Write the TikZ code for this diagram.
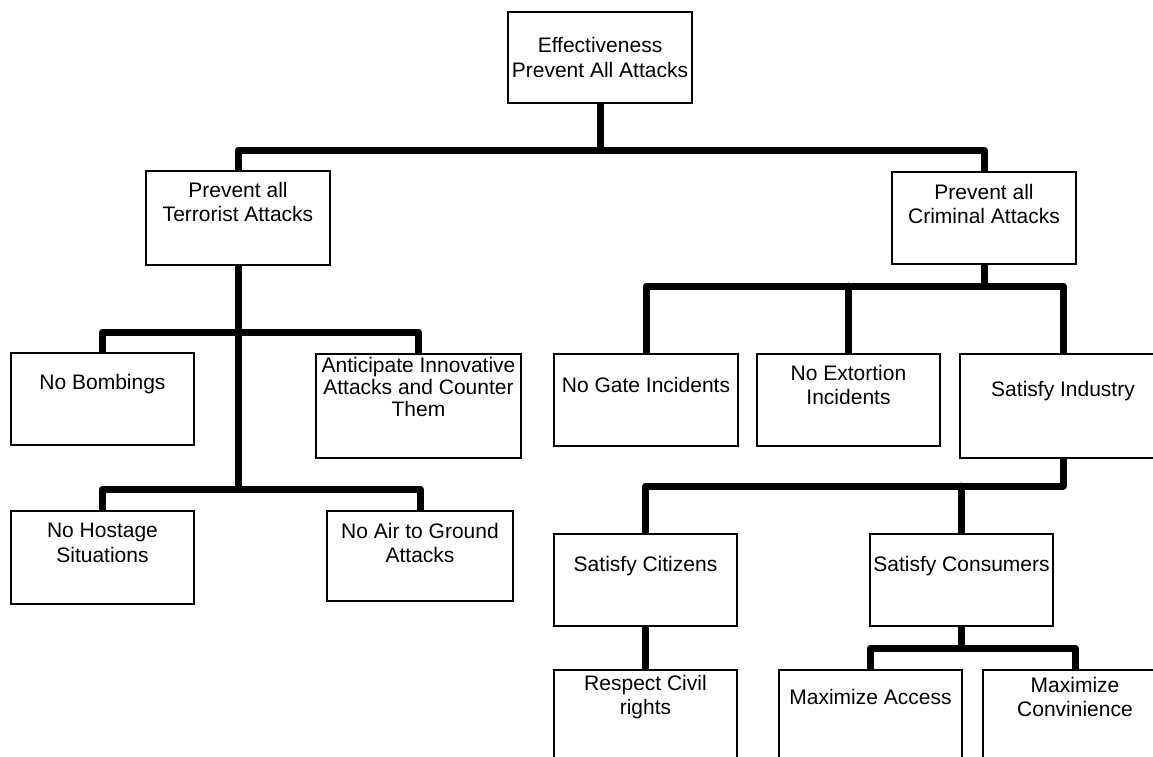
\documentclass[tikz,border=0pt]{standalone}
\usepackage{fontspec}
\setmainfont{Liberation Sans}
\begin{document}
\begin{tikzpicture}[x=1pt,y=-1pt,
  box/.style={draw=black, line width=2pt, fill=white, inner sep=0pt},
  lbl/.style={inner sep=0pt, align=center, font=\fontsize{21}{24.5}\selectfont},
  conn/.style={line width=7pt, line cap=round, line join=round}]
\clip (0,0) rectangle (1153,757);
\fill[white] (0,0) rectangle (1153,757);

% bar junctions
\coordinate (j0) at (600,150);
\coordinate (j1) at (238,332);
\coordinate (j2) at (238,489);
\coordinate (j3) at (984,286);
\coordinate (j4) at (1063,486);
\coordinate (j5) at (961.5,648);

% boxes (placed first so connectors can refer to them; redrawn on top below)
\begin{scope}[box/.append style={draw=none, fill=none}]
\node[box, minimum width=182, minimum height=89]  (top)   at (600,57.5)   {};
\node[box, minimum width=182, minimum height=92]  (terr)  at (238,218)    {};
\node[box, minimum width=182, minimum height=90]  (crim)  at (984,218)    {};
\node[box, minimum width=181, minimum height=90]  (bomb)  at (102.5,399)  {};
\node[box, minimum width=203, minimum height=102] (antic) at (418.5,406)  {};
\node[box, minimum width=181, minimum height=91]  (host)  at (102.5,557.5){};
\node[box, minimum width=184, minimum height=88]  (air)   at (420,556)    {};
\node[box, minimum width=182, minimum height=90]  (gate)  at (646,400)    {};
\node[box, minimum width=181, minimum height=90]  (ext)   at (848.5,400)  {};
\node[box, minimum width=204, minimum height=102] (ind)   at (1063,406)   {};
\node[box, minimum width=181, minimum height=90]  (cit)   at (645.5,580)  {};
\node[box, minimum width=181, minimum height=90]  (cons)  at (961.5,580)  {};
\node[box, minimum width=181, minimum height=110] (resp)  at (645.5,726)  {};
\node[box, minimum width=181, minimum height=110] (acc)   at (870.5,726)  {};
\node[box, minimum width=182, minimum height=110] (conv)  at (1075,726)   {};
\end{scope}

% connectors
\draw[conn] (top.south) -- (j0);
\draw[conn] (terr.north) |- (j0) -| (crim.north);

\draw[conn] (terr.south) -- (j2);
\draw[conn] (bomb.north) |- (j1) -| (antic.north);
\draw[conn] (host.north) |- (j2) -| (air.north);

\draw[conn] (crim.south) -- (j3);
\draw[conn] (gate.north) |- (j3) -| (ind.north);
\draw[conn] (ext.north) -- (ext.north |- j3);

\draw[conn] (ind.south) -- (j4);
\draw[conn] (cit.north) |- (j4);
\draw[conn] (cons.north) -- (cons.north |- j4);
\draw[conn] (cit.south) -- (resp.north);

\draw[conn] (cons.south) -- (j5);
\draw[conn] (acc.north) |- (j5) -| (conv.north);

% box outlines over the connector ends
\foreach \b in {top,terr,crim,bomb,antic,host,air,gate,ext,ind,cit,cons,resp,acc,conv}
  \draw[line width=2pt, fill=white] (\b.north west) rectangle (\b.south east);

% labels
\node[lbl] (topT)   at (top.center)                {Effectiveness\\Prevent All Attacks};
\node[lbl] (terrT)  at ([yshift=-31pt]terr.north)  {Prevent all\\Terrorist Attacks};
\node[lbl] (crimT)  at ([yshift=-32pt]crim.north)  {Prevent all\\Criminal Attacks};
\node[lbl] (bombT)  at ([yshift=-31pt]bomb.north)  {No Bombings};
\node[lbl, font=\fontsize{21}{22}\selectfont] (anticT) at ([yshift=-33pt]antic.north) {Anticipate Innovative\\Attacks and Counter\\Them};
\node[lbl] (hostT)  at ([yshift=-32pt]host.north)  {No Hostage\\Situations};
\node[lbl] (airT)   at ([yshift=-32pt]air.north)   {No Air to Ground\\Attacks};
\node[lbl] (gateT)  at ([yshift=-31pt]gate.north)  {No Gate Incidents};
\node[lbl] (extT)   at ([yshift=-31pt]ext.north)   {No Extortion\\Incidents};
\node[lbl] (indT)   at ([yshift=-37pt]ind.north)   {Satisfy Industry};
\node[lbl] (citT)   at ([yshift=-32pt]cit.north)   {Satisfy Citizens};
\node[lbl] (consT)  at ([yshift=-32pt]cons.north)  {Satisfy Consumers};
\node[lbl] (respT)  at ([yshift=-27pt]resp.north)  {Respect Civil\\rights};
\node[lbl] (accT)   at ([yshift=-27pt]acc.north)   {Maximize Access};
\node[lbl] (convT)  at ([yshift=-27pt]conv.north)  {Maximize\\Convinience};
\end{tikzpicture}
\end{document}
